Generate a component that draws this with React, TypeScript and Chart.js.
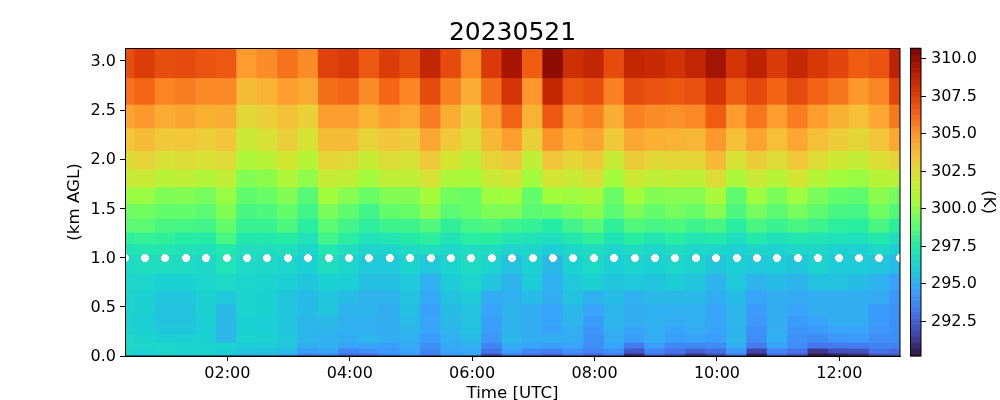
import React, { useEffect, useRef } from "react";
import { Chart, registerables } from "chart.js";

Chart.register(...registerables);

const title = "20230521";
const timeHours = [0.32,0.653,0.987,1.32,1.653,1.987,2.32,2.653,2.987,3.32,3.653,3.987,4.32,4.653,4.987,5.32,5.653,5.987,6.32,6.653,6.987,7.32,7.653,7.987,8.32,8.653,8.987,9.32,9.653,9.987,10.32,10.653,10.987,11.32,11.653,11.987,12.32,12.653,12.987];
const dotHeightKm = 1.0;
const heightEdges = [3.132,2.83,2.56,2.32,2.09,1.90,1.72,1.55,1.40,1.26,1.14,1.03,0.84,0.67,0.53,0.41,0.31,0.23,0.14,0.08,0.03,0];

const row00 = [307.0,307.6,307.0,307.1,306.8,306.7,304.8,305.2,305.9,305.2,307.4,307.7,306.7,307.6,307.0,308.6,307.1,305.3,307.7,309.5,306.5,310.2,308.2,308.6,307.1,308.6,308.4,308.0,308.6,309.6,307.9,308.8,307.7,308.5,307.8,307.3,306.5,306.8,308.8];
const row01 = [305.9,306.2,305.4,305.6,305.3,305.3,303.7,304.0,304.7,304.3,306.0,306.2,305.2,306.2,305.4,307.1,305.5,304.2,306.0,307.9,304.9,308.6,306.7,307.0,305.5,307.1,306.8,306.7,306.9,307.9,306.5,307.2,306.3,307.1,306.3,305.8,304.9,305.4,307.3];
const row02 = [304.5,304.9,304.2,304.5,304.1,304.2,302.6,303.0,303.5,302.9,304.7,304.7,304.0,304.7,304.3,305.6,304.2,303.1,304.7,306.3,304.0,306.7,305.0,305.5,304.2,305.5,305.2,305.1,305.3,306.5,304.8,305.8,304.8,305.6,304.8,304.1,303.6,304.4,305.7];
const row03 = [303.4,303.7,303.2,303.3,303.0,303.4,301.7,302.2,303.0,302.1,303.7,303.7,302.8,303.4,303.1,304.4,303.2,302.4,303.8,304.7,302.9,305.0,304.1,304.5,303.2,304.4,304.1,304.0,303.9,304.9,303.6,304.5,303.6,304.4,303.6,303.1,302.7,303.4,304.4];
const row04 = [302.4,302.8,302.2,302.4,302.2,302.5,300.8,301.1,302.0,301.0,302.7,302.5,301.5,302.4,302.1,303.2,302.0,301.3,302.8,303.3,301.3,303.4,302.6,303.2,301.6,303.1,302.6,302.7,302.7,303.8,302.1,303.1,302.4,303.3,302.4,301.8,301.5,302.3,302.8];
const row05 = [301.7,301.7,301.1,301.3,300.9,301.4,299.7,299.9,300.8,300.0,301.6,301.3,300.4,301.3,301.3,302.2,300.7,300.5,301.6,302.0,300.4,302.0,301.7,302.3,300.4,301.8,301.3,301.4,301.3,302.4,300.6,301.7,301.0,302.0,301.0,300.4,300.2,301.1,301.1];
const row06 = [300.2,300.2,299.6,299.7,299.4,300.2,298.9,299.1,299.7,298.7,300.4,299.8,299.1,299.7,299.7,300.5,299.3,299.1,300.3,300.4,299.0,300.4,300.3,300.6,299.1,300.4,299.7,299.8,299.8,300.6,298.9,300.3,299.5,300.3,299.5,299.0,298.9,299.9,299.4];
const row07 = [299.2,299.3,299.0,299.0,298.8,299.7,298.4,298.5,299.0,298.2,299.5,298.9,298.2,299.0,299.1,299.9,298.8,299.1,299.6,299.6,298.8,299.0,299.5,299.9,298.8,299.6,299.0,299.4,299.1,299.8,298.5,299.4,298.8,299.4,298.9,298.4,298.3,299.3,298.6];
const row08 = [298.8,298.8,298.4,298.3,298.2,299.0,298.0,298.0,298.5,297.6,298.8,298.2,297.7,298.1,298.1,298.6,297.8,298.3,298.5,298.1,297.9,297.5,298.2,298.7,297.8,298.6,298.3,298.5,298.1,298.4,297.6,298.4,298.0,298.4,298.1,297.7,297.6,298.4,297.7];
const row09 = [297.7,297.9,297.8,297.5,297.5,298.4,297.3,297.3,297.5,296.9,298.2,297.6,296.9,297.1,297.4,297.7,297.0,297.6,297.6,297.2,296.9,296.7,297.3,297.8,297.0,297.6,297.2,297.6,297.1,297.3,296.7,297.3,296.9,297.2,297.0,296.9,296.8,297.3,296.7];
const row10 = [296.9,297.2,297.1,296.9,296.8,297.3,296.7,296.7,296.8,296.3,297.2,296.7,296.3,296.3,296.6,296.7,296.4,296.7,296.6,296.3,296.3,296.0,296.4,296.7,296.3,296.6,296.4,296.6,296.4,296.3,296.1,296.3,296.2,296.4,296.4,296.1,296.1,296.4,296.0];
const row11 = [296.5,296.7,296.7,296.6,296.4,297.0,296.5,296.4,296.3,296.0,296.7,296.3,295.8,295.8,296.2,295.8,296.2,296.6,296.2,295.6,296.1,295.3,296.1,296.5,296.0,296.2,296.1,296.3,296.2,295.7,296.0,295.8,295.9,295.7,296.2,295.9,295.9,295.7,295.4];
const row12 = [296.3,296.3,296.1,296.1,296.3,296.5,296.3,296.2,296.0,295.7,296.1,296.0,295.5,295.5,295.8,295.0,295.9,296.3,295.7,295.1,295.9,295.0,295.8,296.1,295.7,295.8,295.7,295.9,295.7,295.1,295.8,295.1,295.4,295.1,295.6,295.6,295.4,295.1,294.5];
const row13 = [296.2,296.1,295.7,295.7,296.1,295.8,296.2,296.1,295.7,295.4,295.7,295.4,295.1,295.1,295.6,294.8,295.6,295.9,294.9,295.0,295.4,294.9,295.6,295.0,295.4,295.0,295.3,295.3,295.3,294.9,295.4,294.6,294.9,294.8,294.9,294.9,294.9,294.8,294.2];
const row14 = [296.2,296.1,295.6,295.6,296.1,295.3,296.2,296.1,295.7,295.4,295.7,295.1,295.1,294.9,295.5,294.5,295.4,295.6,294.6,295.1,294.9,294.6,295.3,294.6,295.2,294.9,295.0,295.0,295.0,294.6,295.2,294.3,294.9,294.6,294.9,294.9,294.9,294.3,294.1];
const row15 = [296.1,296.0,295.6,295.6,296.0,295.3,296.1,296.0,295.7,295.2,295.3,295.0,295.0,294.9,295.4,294.6,295.3,295.6,294.4,295.1,294.9,294.6,295.2,294.3,295.2,294.9,295.0,294.9,295.0,294.6,295.2,294.2,294.9,294.3,294.6,294.9,294.9,294.3,294.0];
const row16 = [296.2,296.1,295.7,295.7,296.0,295.2,296.1,296.0,295.7,295.2,295.2,295.0,294.9,294.9,295.2,294.6,295.2,295.6,294.4,295.1,294.9,294.5,295.0,294.2,295.0,294.6,295.0,294.6,294.9,294.6,295.1,294.0,294.9,294.2,294.3,294.6,294.6,294.2,294.0];
const row17 = [296.4,296.2,296.0,296.0,296.1,295.2,296.2,296.1,295.8,295.2,295.0,294.9,295.2,294.9,295.0,294.3,295.0,295.4,294.2,295.2,294.9,294.9,294.9,294.0,294.9,294.4,294.9,294.4,294.6,294.4,295.2,293.9,295.0,294.0,293.9,294.2,294.3,293.9,293.9];
const row18 = [296.5,296.3,296.3,296.2,296.2,296.2,295.9,295.9,295.7,294.9,295.0,294.6,294.6,294.4,294.8,294.0,294.8,295.0,293.6,294.9,294.6,294.4,294.6,293.9,294.6,293.3,294.4,293.7,293.7,293.8,294.9,293.3,294.6,293.9,293.1,293.2,293.3,293.6,293.6];
const row19 = [296.3,296.2,296.3,296.2,296.2,296.0,295.7,295.6,295.4,294.3,294.6,293.6,294.1,294.3,294.6,293.6,294.6,294.8,293.0,294.4,293.7,293.4,294.0,293.5,294.0,292.2,293.6,293.0,292.5,292.8,294.2,291.6,293.6,293.0,291.2,291.9,292.0,293.0,292.8];
const row20 = [296.2,296.0,296.2,296.1,296.1,295.7,295.2,295.2,294.9,293.6,293.9,292.8,293.0,293.7,294.3,293.3,294.3,294.6,292.0,293.6,293.0,292.5,293.4,292.7,293.4,291.0,292.9,292.3,291.2,292.0,293.4,290.6,293.0,292.3,290.4,290.7,291.0,292.2,292.4];
const temperatureRows = [row00,row01,row02,row03,row04,row05,row06,row07,row08,row09,row10,row11,row12,row13,row14,row15,row16,row17,row18,row19,row20];

const tempMin = 290.14;
const tempMax = 310.69;
const turboAnchors = ["#30123b","#4145ab","#4675ed","#39a2fc","#1bcfd4","#24eca6","#61fc6c","#a4fc3b","#d1e834","#f3c63a","#fe9b2d","#f36315","#d93806","#b11901","#7a0402"];

function turbo(t: number): string {
  const x = Math.min(1, Math.max(0, t)) * (turboAnchors.length - 1);
  const i = Math.min(turboAnchors.length - 2, Math.floor(x));
  const f = x - i;
  const ch = (hex: string, p: number) => parseInt(hex.slice(p, p + 2), 16);
  const mix = (p: number) => Math.round(ch(turboAnchors[i], p) * (1 - f) + ch(turboAnchors[i + 1], p) * f);
  return `rgb(${mix(1)},${mix(3)},${mix(5)})`;
}
const colorOf = (v: number) => turbo((v - tempMin) / (tempMax - tempMin));

function makeDot(): HTMLCanvasElement {
  const c = document.createElement("canvas");
  c.width = 8;
  c.height = 8;
  const g = c.getContext("2d") as CanvasRenderingContext2D;
  g.fillStyle = "#ffffff";
  g.fillRect(2, 0, 4, 8);
  g.fillRect(0, 2, 8, 4);
  g.fillRect(1, 1, 6, 6);
  return c;
}

const colorbarPlugin = {
  id: "colorbarAndFrame",
  beforeDraw(chart: any) {
    chart.ctx.imageSmoothingEnabled = false;
  },
  afterDraw(chart: any) {
    const { ctx, chartArea } = chart;
    const cb = chart.scales.cb;
    const left = 910;
    const right = 921;
    ctx.save();
    const n = 256;
    for (let i = 0; i < n; i++) {
      const a = tempMin + ((tempMax - tempMin) * i) / n;
      const b = tempMin + ((tempMax - tempMin) * (i + 1)) / n;
      const y0 = cb.getPixelForValue(a);
      const y1 = cb.getPixelForValue(b);
      ctx.fillStyle = colorOf((a + b) / 2);
      ctx.fillRect(left, y1 - 0.3, right - left, y0 - y1 + 0.6);
    }
    ctx.strokeStyle = "#000";
    ctx.lineWidth = 1;
    ctx.strokeRect(left + 0.5, chartArea.top + 0.5, right - left - 1 + 0.5, chartArea.bottom - chartArea.top - 0.5);
    for (const tick of cb.ticks) {
      const y = Math.round(cb.getPixelForValue(tick.value)) + 0.5;
      ctx.beginPath();
      ctx.moveTo(right, y);
      ctx.lineTo(right + 5, y);
      ctx.stroke();
    }
    ctx.strokeRect(chartArea.left + 0.5, chartArea.top + 0.5, chartArea.right - chartArea.left - 0.5, chartArea.bottom - chartArea.top - 0.5);
    ctx.restore();
  },
};

export default function App() {
  const ref = useRef<HTMLCanvasElement | null>(null);
  useEffect(() => {
    const font = { family: "'DejaVu Sans'", size: 16 };
    const labelFont = { family: "'DejaVu Sans'", size: 16.67 };
    const barSets = temperatureRows.map((vals, r) => ({
      type: "bar" as const,
      order: 2,
      grouped: false,
      barPercentage: 1,
      categoryPercentage: 1,
      borderWidth: 0,
      inflateAmount: 0.4,
      data: vals.map((_, c) => ({ x: timeHours[c], y: [heightEdges[r + 1], heightEdges[r]] })),
      backgroundColor: vals.map(colorOf),
    }));
    const chart = new Chart(ref.current as HTMLCanvasElement, {
      data: {
        datasets: [
          {
            type: "scatter" as const,
            order: 1,
            clip: 0,
            data: timeHours.map((t) => ({ x: t, y: dotHeightKm })),
            pointStyle: makeDot(),
            pointRadius: 4,
            pointBorderWidth: 0,
            showLine: false,
          },
          ...barSets,
        ] as any,
      },
      options: {
        animation: false,
        responsive: false,
        devicePixelRatio: 1,
        events: [],
        layout: { padding: 0 },
        plugins: {
          legend: { display: false },
          tooltip: { enabled: false },
          title: {
            display: true,
            text: title,
            fullSize: false,
            color: "#000",
            font: { family: "'DejaVu Sans'", size: 25, weight: "normal", lineHeight: 1.2 },
            padding: { top: 18, bottom: 0 },
          },
        },
        scales: {
          x: {
            type: "linear",
            offset: false,
            min: 0.328,
            max: 12.99,
            afterFit: (s: any) => { s.height = 44; },
            grid: { offset: false, drawOnChartArea: false, tickLength: 5, color: "#000", tickColor: "#000" },
            border: { color: "#000" },
            ticks: {
              stepSize: 2,
              includeBounds: false,
              autoSkip: false,
              maxRotation: 0,
              color: "#000",
              font,
              padding: 3,
              callback: (v: any) => `${String(v).padStart(2, "0")}:00`,
            },
            title: { display: true, text: "Time [UTC]", color: "#000", font: labelFont, padding: { top: 0, bottom: -3.5 } },
          },
          y: {
            type: "linear",
            min: 0,
            max: 3.132,
            afterFit: (s: any) => { s.width = 125; },
            grid: { drawOnChartArea: false, tickLength: 5, color: "#000", tickColor: "#000" },
            border: { color: "#000" },
            ticks: {
              stepSize: 0.5,
              includeBounds: false,
              color: "#000",
              font,
              padding: 4,
              labelOffset: 1,
              callback: (v: any) => Number(v).toFixed(1),
            },
            title: { display: true, text: "(km AGL)", color: "#000", font: labelFont, padding: { top: 65, bottom: 0 } },
          },
          cb: {
            type: "linear",
            position: "right",
            min: tempMin,
            max: tempMax,
            afterFit: (s: any) => { s.width = 100; },
            grid: { display: false, drawTicks: false },
            border: { display: false },
            ticks: {
              stepSize: 2.5,
              includeBounds: false,
              color: "#000",
              font,
              padding: 31,
              labelOffset: 1,
              callback: (v: any) => Number(v).toFixed(1),
            },
            title: { display: true, text: "(K)", color: "#000", font: labelFont, padding: { top: 2, bottom: 0 } },
          },
        },
      } as any,
      plugins: [colorbarPlugin],
    });
    return () => chart.destroy();
  }, []);
  return (
    <div style={{ position: "absolute", left: 0, top: 0, width: 1000, height: 400, background: "#fff" }}>
      <canvas ref={ref} width={1000} height={400} style={{ display: "block" }} />
    </div>
  );
}
